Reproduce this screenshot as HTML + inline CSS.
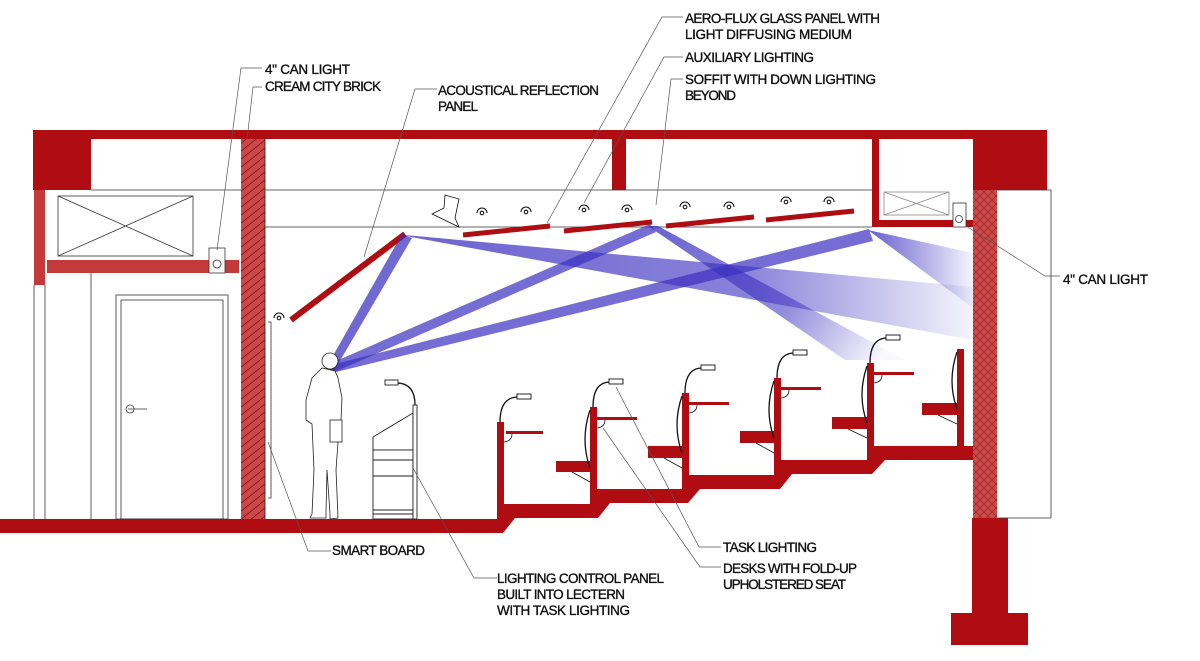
<!DOCTYPE html>
<html><head><meta charset="utf-8"><style>html,body{margin:0;padding:0;background:#fff}svg{display:block}text{font-family:"Liberation Sans",sans-serif;font-size:13.5px;fill:#111;stroke:#111;stroke-width:0.35}</style></head><body>
<svg width="1200" height="661" viewBox="0 0 1200 661" xmlns="http://www.w3.org/2000/svg">
<defs>
<pattern id="brick" width="10" height="8" patternUnits="userSpaceOnUse"><rect width="10" height="8" fill="#cc4848"/><path d="M0,8 L10,0" stroke="#7a1010" stroke-width="0.8"/></pattern>
<pattern id="xh" width="8" height="8" patternUnits="userSpaceOnUse"><rect width="8" height="8" fill="#cc4a4a"/><path d="M0,0 L8,8 M8,0 L0,8" stroke="#8a1c1c" stroke-width="0.6"/></pattern>
<linearGradient id="fadeR" x1="0" y1="0" x2="1" y2="0"><stop offset="0" stop-color="#3a2fc0" stop-opacity="0.75"/><stop offset="0.6" stop-color="#3a2fc0" stop-opacity="0.6"/><stop offset="1" stop-color="#3a2fc0" stop-opacity="0.05"/></linearGradient>
<linearGradient id="fadeR2" gradientUnits="userSpaceOnUse" x1="872" y1="0" x2="973" y2="0"><stop offset="0" stop-color="#3a2fc0" stop-opacity="0.75"/><stop offset="1" stop-color="#3a2fc0" stop-opacity="0.05"/></linearGradient>
<linearGradient id="fadeD" gradientUnits="userSpaceOnUse" x1="652" y1="227" x2="880" y2="360"><stop offset="0" stop-color="#3a2fc0" stop-opacity="0.75"/><stop offset="0.6" stop-color="#3a2fc0" stop-opacity="0.55"/><stop offset="1" stop-color="#3a2fc0" stop-opacity="0.03"/></linearGradient>
</defs>
<g fill="#b00d12">
<rect x="33" y="130" width="1014" height="9"/>
<rect x="33" y="130" width="58" height="60"/>
<rect x="973" y="130" width="74" height="60"/>
<rect x="612" y="139" width="14" height="51"/>
<rect x="872" y="139" width="7" height="88"/>
<rect x="872" y="220" width="81" height="7"/>
<rect x="966" y="220" width="7" height="7"/>
<rect x="34" y="190" width="11" height="95" fill="#c43a3a"/>
<rect x="47" y="260" width="192" height="13" fill="#c43a3a"/>
<path d="M0,519 L497,519 L497,504 L590,504 L590,489 L682,489 L682,475 L774,475 L774,460 L867,460 L867,446 L973,446 L973,460 L885,460 L872,474 L792,474 L780,489 L700,489 L688,503 L610,503 L598,518 L515,518 L503,533 L0,533 Z"/>
<rect x="972" y="518" width="36" height="96"/>
<rect x="951" y="613" width="77" height="32"/>
</g>
<rect x="241" y="139" width="24" height="380" fill="url(#brick)"/>
<line x1="265" y1="139" x2="265" y2="519" stroke="#222" stroke-width="0.8"/>
<rect x="973" y="190" width="24" height="328" fill="url(#xh)"/>
<g stroke="#333" stroke-width="0.8" fill="none">
<line x1="91" y1="190" x2="241" y2="190"/>
<line x1="265" y1="190" x2="872" y2="190"/>
<line x1="265" y1="227" x2="872" y2="227"/>
<line x1="34" y1="285" x2="34" y2="519"/>
<line x1="45" y1="285" x2="45" y2="519"/>
<line x1="91" y1="273" x2="91" y2="519"/>
<rect x="58" y="196" width="135" height="60"/>
<path d="M58,196 L193,256 M193,196 L58,256"/>
<rect x="116" y="295" width="112" height="224"/>
<rect x="121" y="300" width="102" height="219"/>
<path d="M128,409 L147,409 M130,405 a4,4 0 1,0 0.1,0"/>
<rect x="209" y="248" width="16" height="25" fill="#fff"/>
<circle cx="217" cy="264" r="4"/>
<rect x="884" y="192" width="65" height="23" stroke="#888"/>
<path d="M884,192 L949,215 M949,192 L884,215" stroke="#888"/>
<rect x="953" y="203" width="13" height="24" fill="#fff"/>
<circle cx="959" cy="219" r="3.5"/>
<line x1="997" y1="190" x2="1051" y2="190"/>
<line x1="1051" y1="190" x2="1051" y2="518"/>
<line x1="997" y1="518" x2="1051" y2="518"/>
<path d="M268,322 L271,322 L271,498 L268,498"/>
<path d="M445,195 L459,199 L455,218 L459,227 L432,214 L444,208 Z" fill="#fff" stroke="#111"/>
</g>
<g stroke="#111" stroke-width="1.1" fill="none">
<path d="M274,318 a5,5 0 0,1 10,0"/><circle cx="279" cy="318" r="1.8"/>
<path d="M477,213 a5,5 0 0,1 10,0"/><circle cx="482" cy="213" r="1.8"/>
<path d="M521,212 a5,5 0 0,1 10,0"/><circle cx="526" cy="212" r="1.8"/>
<path d="M579,210 a5,5 0 0,1 10,0"/><circle cx="584" cy="210" r="1.8"/>
<path d="M622,210 a5,5 0 0,1 10,0"/><circle cx="627" cy="210" r="1.8"/>
<path d="M680,207 a5,5 0 0,1 10,0"/><circle cx="685" cy="207" r="1.8"/>
<path d="M724,207 a5,5 0 0,1 10,0"/><circle cx="729" cy="207" r="1.8"/>
<path d="M781,202 a5,5 0 0,1 10,0"/><circle cx="786" cy="202" r="1.8"/>
<path d="M824,202 a5,5 0 0,1 10,0"/><circle cx="829" cy="202" r="1.8"/>
</g>
<g stroke="#b00d12" stroke-width="5" stroke-linecap="butt">
<line x1="291" y1="320" x2="405" y2="234" stroke-width="6"/>
<line x1="463" y1="235" x2="550" y2="226"/>
<line x1="564" y1="231" x2="652" y2="222"/>
<line x1="666" y1="226" x2="754" y2="217"/>
<line x1="766" y1="220" x2="854" y2="211"/>
</g>
<g>
<polygon points="326,368 334,371 412,238 402,234" fill="#3a2fc0" fill-opacity="0.72"/>
<polygon points="327,365 332,373 656,232 650,224" fill="#3a2fc0" fill-opacity="0.7"/>
<polygon points="327,366 332,373 873,241 869,229" fill="#3a2fc0" fill-opacity="0.7"/>
<polygon points="405,235 411,237 973,340 973,287" fill="url(#fadeR)"/>
<polygon points="648,226 658,226 905,360 845,360" fill="url(#fadeD)"/>
<polygon points="868,230 877,232 973,253 973,308" fill="url(#fadeR2)"/>
</g>
<g stroke="#222" stroke-width="0.8" fill="#fff">
<path d="M322,368 L312,378 L306,400 L306,420 L312,424 L314,470 L312,514 L310,518 L326,518 L326,512 L327,470 L330,514 L330,519 L338,518 L336,470 L338,442 L341,420 L342,398 L338,378 L335,371 Z"/>
<circle cx="330" cy="361" r="8"/>
<rect x="330" y="420" width="12" height="22"/>
</g>
<g stroke="#222" stroke-width="0.9" fill="#fff">
<path d="M373,450 L373,437 L413,413 L413,450 Z"/>
<rect x="373" y="450" width="40" height="69"/>
<path d="M373,460 L413,460 M373,476 L413,476 M373,510 L413,510 M373,514 L413,514"/>
<rect x="413" y="405" width="4" height="114"/>
<path d="M415,405 Q415,384 398,383" fill="none" stroke-width="1.4"/>
<rect x="385" y="380" width="13" height="5"/>
</g>
<g>
<g fill="#b00d12">
<rect x="497" y="422" width="7" height="82"/>
<rect x="590" y="407" width="7" height="82"/>
<rect x="682" y="393" width="7" height="82"/>
<rect x="774" y="378" width="7" height="82"/>
<rect x="867" y="363" width="7" height="83"/>
<rect x="957" y="349" width="7" height="97"/>
<rect x="506" y="431" width="37" height="3"/>
<rect x="597" y="417" width="40" height="3"/>
<rect x="689" y="402" width="40" height="3"/>
<rect x="781" y="387" width="40" height="3"/>
<rect x="874" y="372" width="40" height="3"/>
<rect x="556" y="461" width="34" height="11"/>
<rect x="648" y="446" width="34" height="12"/>
<rect x="740" y="431" width="34" height="12"/>
<rect x="832" y="417" width="35" height="12"/>
<rect x="922" y="403" width="35" height="12"/>
</g>
<g stroke="#111" stroke-width="1.3" fill="none">
<path d="M500,422 Q500,398 517,397"/><path d="M593,407 Q593,383 609,382"/><path d="M685,393 Q685,369 701,368"/><path d="M777,378 Q777,354 793,353"/><path d="M870,363 Q870,339 886,338"/>
<path d="M590,410 Q580,440 590,468"/><path d="M682,396 Q672,425 682,453"/><path d="M774,381 Q764,410 774,438"/><path d="M867,366 Q857,395 867,423"/><path d="M957,352 Q947,381 957,409"/>
</g>
<g stroke="#111" stroke-width="0.8" fill="none">
<path d="M504,442 Q512,441 512,434"/><path d="M597,428 Q605,427 605,420"/><path d="M689,413 Q697,412 697,405"/><path d="M781,398 Q789,397 789,390"/><path d="M874,383 Q882,382 882,375"/>
<path d="M572,472 L590,482"/><path d="M664,458 L682,468"/><path d="M756,443 L774,453"/><path d="M848,429 L867,438"/><path d="M938,415 L957,424"/>
</g>
<g fill="#fff" stroke="#111" stroke-width="0.9">
<rect x="517" y="394" width="14" height="5"/><rect x="609" y="379" width="14" height="5"/><rect x="701" y="365" width="14" height="5"/><rect x="793" y="350" width="14" height="5"/><rect x="886" y="335" width="14" height="5"/>
</g>
</g>
<g stroke="#555" stroke-width="0.7" fill="none">
<polyline points="262,68 241,68 217,250"/>
<polyline points="262,87 253,87 247,140"/>
<polyline points="437,89 415,89 364,257"/>
<polyline points="683,17 662,17 547,223"/>
<polyline points="683,57 664,57 584,203"/>
<polyline points="683,79 671,79 656,205"/>
<polyline points="966,226 1045,276 1060,276"/>
<polyline points="268,442 308,551 331,551"/>
<polyline points="413,468 474,578 497,578"/>
<polyline points="616,387 699,547 721,547"/>
<polyline points="603,428 700,567 721,567"/>
</g>
<text x="265" y="74" textLength="85">4" CAN LIGHT</text>
<text x="265" y="91" textLength="116">CREAM CITY BRICK</text>
<text x="438" y="95" textLength="161">ACOUSTICAL REFLECTION</text>
<text x="438" y="111" textLength="40">PANEL</text>
<text x="685" y="23" textLength="195">AERO-FLUX GLASS PANEL WITH</text>
<text x="685" y="39" textLength="167">LIGHT DIFFUSING MEDIUM</text>
<text x="685" y="62" textLength="129">AUXILIARY LIGHTING</text>
<text x="685" y="84" textLength="191">SOFFIT WITH DOWN LIGHTING</text>
<text x="685" y="100" textLength="51">BEYOND</text>
<text x="1063" y="284" textLength="85">4" CAN LIGHT</text>
<text x="332" y="555" textLength="93">SMART BOARD</text>
<text x="497" y="583" textLength="167">LIGHTING CONTROL PANEL</text>
<text x="497" y="599" textLength="128">BUILT INTO LECTERN</text>
<text x="497" y="615" textLength="133">WITH TASK LIGHTING</text>
<text x="723" y="552" textLength="94">TASK LIGHTING</text>
<text x="723" y="573" textLength="134">DESKS WITH FOLD-UP</text>
<text x="723" y="589" textLength="123">UPHOLSTERED SEAT</text>
</svg>
</body></html>
